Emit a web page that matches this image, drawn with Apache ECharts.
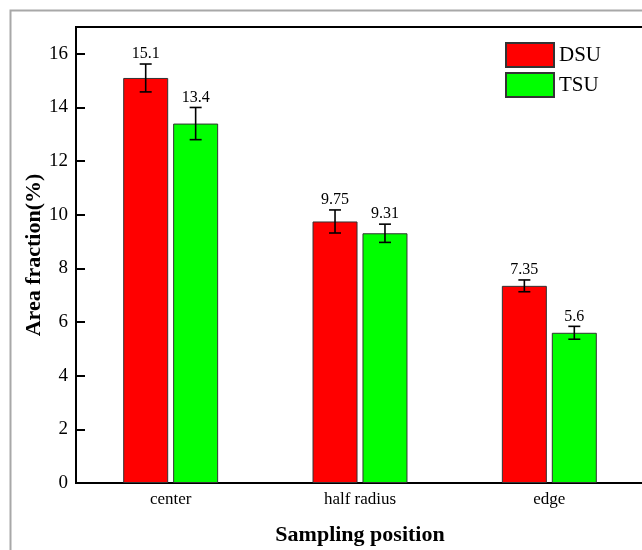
<!DOCTYPE html>
<html>
<head>
<meta charset="utf-8">
<script src="https://cdn.jsdelivr.net/npm/echarts@6/dist/echarts.min.js"></script>
<style>
  html, body { margin: 0; padding: 0; background: #fff; }
  #chart { width: 642px; height: 550px; }
</style>
</head>
<body>
<div id="chart"></div>
<script>
// Sampling positions along the radius
const categories = ['center', 'half radius', 'edge'];
// Area fraction (%) for each process
const dsuValues = [15.1, 9.75, 7.35];
const tsuValues = [13.4, 9.31, 5.6];
// Standard deviations (error bar half-lengths)
const dsuErrors = [0.52, 0.43, 0.22];
const tsuErrors = [0.6, 0.34, 0.24];
// Y axis range and tick step
const yMin = 0, yMax = 17, yStep = 2;

const FONT = '"Liberation Serif", "Times New Roman", serif';
const BAR_W = 45;
const BAR_GAP = '11%';
const HALF_SHIFT = (BAR_W + BAR_W * 0.11) / 2;

// Error bar with a value label above it, for one series
function errorSeries(name, values, errors, side) {
  return {
    name: name + ' err',
    type: 'custom',
    z: 10,
    data: values.map((v, i) => [i, v, errors[i]]),
    encode: { x: 0, y: 1 },
    renderItem: function (params, api) {
      const i = api.value(0), v = api.value(1), e = api.value(2);
      const top = api.coord([i, v + e]);
      const bot = api.coord([i, v - e]);
      const x = top[0] + side * HALF_SHIFT;
      const cap = 6;
      const st = { stroke: '#000', lineWidth: 1.6 };
      return {
        type: 'group',
        children: [
          { type: 'line', shape: { x1: x, y1: top[1], x2: x, y2: bot[1] }, style: st },
          { type: 'line', shape: { x1: x - cap, y1: top[1], x2: x + cap, y2: top[1] }, style: st },
          { type: 'line', shape: { x1: x - cap, y1: bot[1], x2: x + cap, y2: bot[1] }, style: st },
          { type: 'text', x: x, y: top[1] - 2,
            style: { text: String(v), fill: '#000', font: '16px ' + FONT,
                     align: 'center', verticalAlign: 'bottom' } }
        ]
      };
    }
  };
}

const chart = echarts.init(document.getElementById('chart'), null, { renderer: 'canvas' });
chart.setOption({
  backgroundColor: '#fff',
  animation: false,
  graphic: [{
    type: 'rect', left: 8, top: 8, z: -10,
    shape: { width: 700, height: 600 },
    style: { fill: 'none', stroke: '#a8a8a8', lineWidth: 2 }
  }],
  grid: {
    left: 76, right: -2, top: 27, bottom: 67,
    outerBoundsMode: 'none',
    containLabel: false,
    show: true, borderColor: '#000', borderWidth: 2, backgroundColor: 'transparent'
  },
  legend: {
    orient: 'vertical', left: 505, top: 42, padding: 0,
    itemWidth: 48, itemHeight: 24, itemGap: 4,
    icon: 'rect',
    data: ['DSU', 'TSU'],
    textStyle: { fontFamily: FONT, fontSize: 21, color: '#000' }
  },
  xAxis: {
    type: 'category',
    data: categories,
    name: 'Sampling position',
    nameLocation: 'middle',
    nameGap: 41,
    nameMoveOverlap: false,
    nameTextStyle: { fontFamily: FONT, fontSize: 22, fontWeight: 'bold', color: '#000' },
    axisLine: { lineStyle: { color: '#000', width: 2 } },
    axisTick: { inside: true, alignWithLabel: true, length: 8, lineStyle: { color: '#444', width: 2 } },
    axisLabel: { fontFamily: FONT, fontSize: 17, color: '#000', margin: 8 }
  },
  yAxis: {
    type: 'value',
    min: yMin, max: yMax, interval: yStep,
    name: 'Area fraction(%)',
    nameLocation: 'middle',
    nameGap: 31,
    nameMoveOverlap: false,
    nameTextStyle: { fontFamily: FONT, fontSize: 22, fontWeight: 'bold', color: '#000' },
    axisLine: { show: true, lineStyle: { color: '#000', width: 2 } },
    axisTick: { show: true, inside: true, length: 9, lineStyle: { color: '#000', width: 2 } },
    axisLabel: { fontFamily: FONT, fontSize: 19, color: '#000', margin: 8, showMaxLabel: false },
    splitLine: { show: false }
  },
  series: [
    {
      name: 'DSU', type: 'bar', data: dsuValues,
      barWidth: BAR_W, barGap: BAR_GAP,
      itemStyle: { color: '#ff0000', borderColor: '#333', borderWidth: 1 }
    },
    {
      name: 'TSU', type: 'bar', data: tsuValues,
      barWidth: BAR_W,
      itemStyle: { color: '#00ff00', borderColor: '#333', borderWidth: 1 }
    },
    errorSeries('DSU', dsuValues, dsuErrors, -1),
    errorSeries('TSU', tsuValues, tsuErrors, 1)
  ]
});
</script>
</body>
</html>
